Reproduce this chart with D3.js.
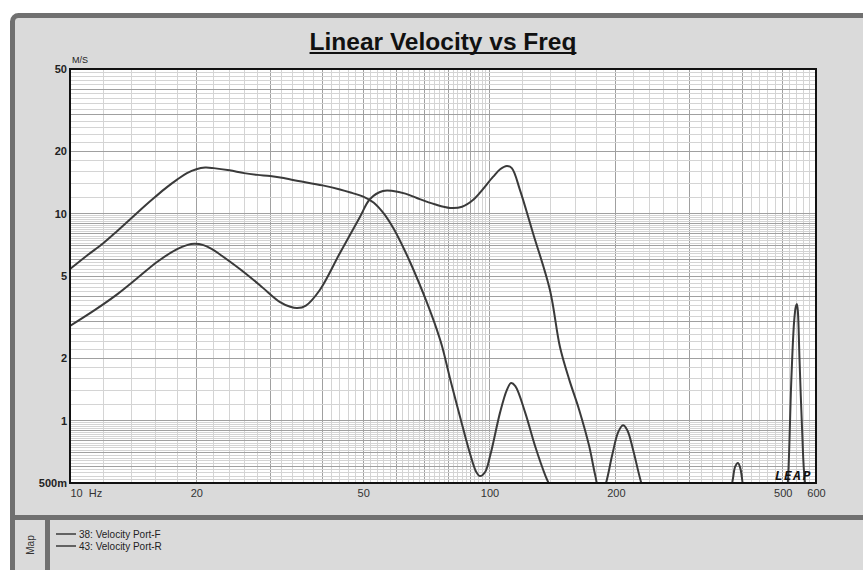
<!DOCTYPE html>
<html><head><meta charset="utf-8">
<script src="https://cdn.jsdelivr.net/npm/d3@7"></script>
<style>body{margin:0;background:#fff}svg{display:block}text{font-family:"Liberation Sans",Arial,sans-serif}</style>
</head><body><svg id="c" width="863" height="570"></svg>
<script>
const title = "Linear Velocity vs Freq";
const yUnit = "M/S";
const xTicks = [10, 20, 50, 100, 200, 500, 600];
const xTickLabels = ["10  Hz", "20", "50", "100", "200", "500", "600"];
const yTicks = [0.5, 1, 2, 5, 10, 20, 50];
const yTickLabels = ["500m", "1", "2", "5", "10", "20", "50"];
const seriesNames = ["38: Velocity Port-F", "43: Velocity Port-R"];

const freqF = [10,11,12,13,14,15,16,17,18,19,20,21,22,24,26,28,30,32,35,40,44,47,50,53,56,59,62,65,68,71,74,77,80.5,85.1,89.9,93,94.9,97.6,100.4,106,110,112.5,115.2,121.5,128.5,136,141,150,165,300,370,380,385,391,396,402,410,450];
const velF  = [5.4,6.3,7.2,8.3,9.5,10.8,12.1,13.4,14.6,15.7,16.4,16.7,16.6,16.2,15.7,15.4,15.2,14.9,14.4,13.7,13.1,12.6,12.1,11.3,10.0,8.5,7.0,5.7,4.6,3.7,2.95,2.3,1.6,1.04,0.69,0.565,0.54,0.565,0.68,1.10,1.41,1.52,1.47,1.10,0.75,0.54,0.46,0.35,0.25,0.2,0.4,0.52,0.6,0.625,0.59,0.48,0.35,0.2];

const freqR = [10,11.47,13,14.5,16.12,18,19,19.8,20.8,21.8,22.78,25.4,28.4,31.6,33.5,34.8,36.5,39.4,44,49.1,51.9,55.7,58.9,63,67.1,74,80.5,86,91.3,101.9,106,110,113,118.2,126.9,139.3,147.2,155,163.5,172.6,178.6,184,189.5,196,202.6,208,213,220,230,250,400,500,514,524,532,537,540,543,548,556,565,600];
const velR  = [2.87,3.43,4.1,4.9,5.84,6.75,7.05,7.15,7.05,6.75,6.35,5.4,4.5,3.75,3.55,3.5,3.6,4.28,6.46,9.64,11.78,12.87,12.87,12.5,11.9,11.1,10.66,10.8,11.64,15.05,16.4,17.0,16.6,13.0,8.07,4.28,2.27,1.57,1.13,0.76,0.545,0.43,0.5,0.68,0.88,0.95,0.9,0.72,0.5,0.3,0.2,0.25,0.5,1.57,3.0,3.55,3.66,3.4,2.0,0.9,0.5,0.25];

const W = 863, H = 570;
const L = 70, T = 69, R = 816, B = 483;
const svg = d3.select("#c");

// page / frame
svg.append("rect").attr("x",0).attr("y",0).attr("width",W).attr("height",H).attr("fill","#ffffff");
svg.append("rect").attr("x",12.5).attr("y",15.5).attr("width",W+20).attr("height",H+20).attr("rx",6)
  .attr("fill","#dadada").attr("stroke","#707070").attr("stroke-width",5);
svg.append("rect").attr("x",15).attr("y",515).attr("width",W).attr("height",5).attr("fill","#707070");
svg.append("rect").attr("x",45).attr("y",520).attr("width",5).attr("height",60).attr("fill","#707070");

// title
const tt = svg.append("text").attr("x",443).attr("y",50).attr("text-anchor","middle")
  .attr("font-size",24.5).attr("font-weight","bold").attr("fill","#111").text(title);
const tw = tt.node().getComputedTextLength();
svg.append("rect").attr("x",443-tw/2).attr("y",52).attr("width",tw).attr("height",2).attr("fill","#111");

const x = d3.scaleLog().domain([10,600]).range([L,R]);
const y = d3.scaleLog().domain([0.5,50]).range([B,T]);

svg.append("rect").attr("x",L).attr("y",T).attr("width",R-L).attr("height",B-T).attr("fill","#fff");

// grid
function gridVals(lo, hi) {
  const out = [];
  for (let k = Math.floor(Math.log10(lo)); k <= Math.ceil(Math.log10(hi)); k++) {
    const dec = Math.pow(10,k), step = dec*0.2;
    for (let m = 5; m <= 50; m++) {
      const v = +(m*step).toPrecision(6);
      if (v > lo && v < hi) out.push({v, major: m % 5 === 0});
    }
  }
  return out;
}
const g = svg.append("g");
gridVals(10,600).forEach(d => {
  g.append("line").attr("x1",x(d.v)).attr("x2",x(d.v)).attr("y1",T).attr("y2",B)
    .attr("stroke", d.major ? "#a0a0a0" : "#d4d4d4").attr("stroke-width",1).attr("shape-rendering","crispEdges");
});
gridVals(0.5,50).forEach(d => {
  g.append("line").attr("y1",y(d.v)).attr("y2",y(d.v)).attr("x1",L).attr("x2",R)
    .attr("stroke", d.major ? "#a0a0a0" : "#d4d4d4").attr("stroke-width",1).attr("shape-rendering","crispEdges");
});

// curves
svg.append("clipPath").attr("id","pc").append("rect").attr("x",L).attr("y",T).attr("width",R-L).attr("height",B-T);
const line = d3.line().x(d => x(d[0])).y(d => y(d[1])).curve(d3.curveCatmullRom.alpha(0.5));
[[freqF,velF],[freqR,velR]].forEach(([f,v]) => {
  svg.append("path").attr("clip-path","url(#pc)").attr("d", line(f.map((ff,i)=>[ff,v[i]])))
    .attr("fill","none").attr("stroke","#3a3a3a").attr("stroke-width",2);
});

// plot border
svg.append("rect").attr("x",L).attr("y",T).attr("width",R-L).attr("height",B-T)
  .attr("fill","none").attr("stroke","#111").attr("stroke-width",2);

// axes labels
const ax = d3.axisBottom(x).tickValues(xTicks).tickFormat((d,i)=>xTickLabels[i]).tickSize(0).tickPadding(6);
const axg = svg.append("g").attr("transform",`translate(0,${B})`).call(ax);
axg.select(".domain").remove();
axg.selectAll("text").attr("font-size",11).attr("fill","#333").style("font-family","'Liberation Sans',Arial,sans-serif")
  .style("white-space","pre").attr("xml:space","preserve");
axg.selectAll(".tick").filter(d=>d===10).select("text").attr("text-anchor","start");

const ay = d3.axisLeft(y).tickValues(yTicks).tickFormat((d,i)=>yTickLabels[i]).tickSize(0).tickPadding(3);
const ayg = svg.append("g").attr("transform",`translate(${L},0)`).call(ay);
ayg.select(".domain").remove();
ayg.selectAll("text").attr("font-size",11).attr("fill","#222").attr("font-weight","bold").style("font-family","'Liberation Sans',Arial,sans-serif");

svg.append("text").attr("x",72).attr("y",63).attr("font-size",9).attr("fill","#222").text(yUnit);

// LEAP logo
svg.append("text").attr("x",812).attr("y",480).attr("text-anchor","end").attr("font-size",13)
  .attr("font-weight","bold").attr("font-style","italic").attr("letter-spacing",1.5).attr("fill","#111")
  .style("font-family","'DejaVu Sans Mono',monospace").text("LEAP");

// legend
seriesNames.forEach((n,i) => {
  const yy = 534 + i*12;
  svg.append("line").attr("x1",56).attr("x2",76).attr("y1",yy).attr("y2",yy).attr("stroke","#3a3a3a").attr("stroke-width",1.5);
  svg.append("text").attr("x",79).attr("y",yy+3.5).attr("font-size",10).attr("fill","#222").text(n);
});
svg.append("text").attr("transform","translate(34,545) rotate(-90)").attr("text-anchor","middle")
  .attr("font-size",10).attr("fill","#333").text("Map");
</script></body></html>
